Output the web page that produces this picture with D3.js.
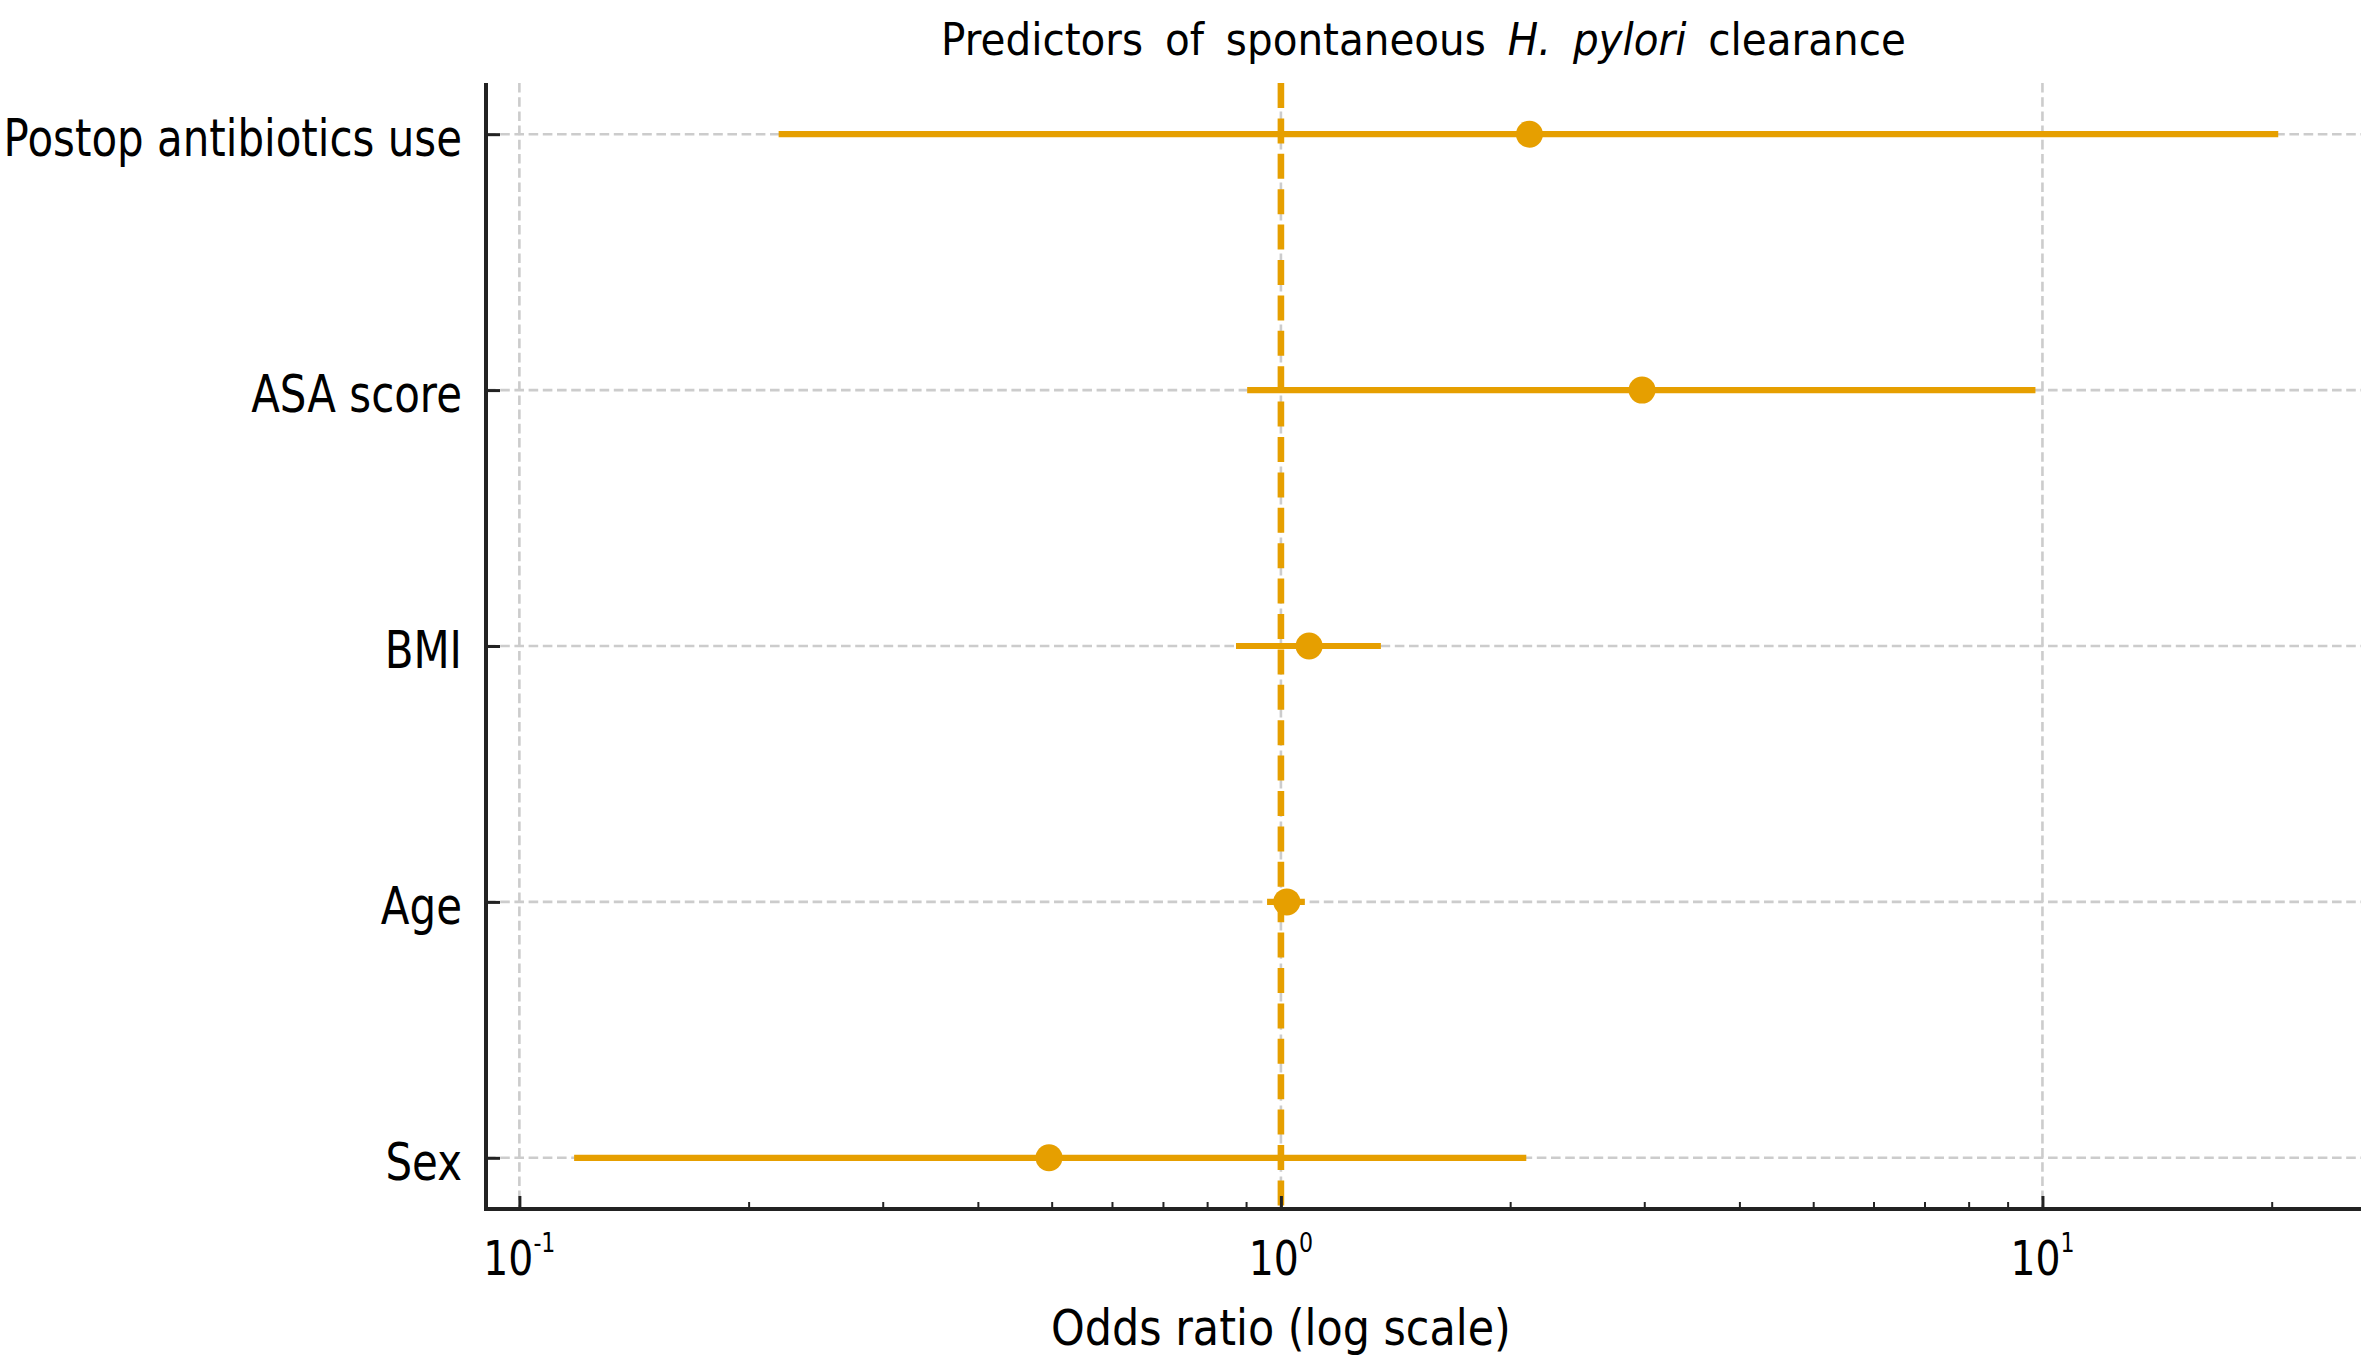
<!DOCTYPE html>
<html>
<head>
<meta charset="utf-8">
<script src="https://cdn.jsdelivr.net/npm/d3@7/dist/d3.min.js"></script>
<style>
  html, body { margin: 0; padding: 0; background: #ffffff; }
  svg { display: block; }
  text { font-family: "DejaVu Sans", Verdana, sans-serif; fill: #000; }
</style>
</head>
<body>
<svg id="chart" width="2361" height="1371"></svg>
<script>
// ---- data ----
const categories = ["Postop antibiotics use", "ASA score", "BMI", "Age", "Sex"];
const oddsRatio  = [2.12, 2.98, 1.089, 1.018, 0.496];
const ciLower    = [0.219, 0.903, 0.873, 0.959, 0.118];
const ciUpper    = [20.4, 9.79, 1.353, 1.075, 2.10];
const majorTicks = [0.1, 1, 10];
const tickBase   = ["10", "10", "10"];
const tickExp    = ["-1", "0", "1"];
const minorTicks = [0.2, 0.3, 0.4, 0.5, 0.6, 0.7, 0.8, 0.9, 2, 3, 4, 5, 6, 7, 8, 9, 20];
const referenceValue = 1;
const xDomain = [0.0904, 26.2];
const titleMain = "Predictors of spontaneous ";
const titleItalic = "H. pylori";
const titleEnd = " clearance";
const xLabel = "Odds ratio (log scale)";

// ---- layout ----
const W = 2361, H = 1371;
const pL = 486, pR = 2361, pT = 83, pB = 1209;
const orange = "#E69F00";
const gridColor = "#cccccc";
const axisColor = "#222222";

const svg = d3.select("#chart");
svg.append("rect").attr("width", W).attr("height", H).attr("fill", "#fff");

const x = d3.scaleLog().domain(xDomain).range([pL, pR]);
const y = d3.scalePoint().domain(categories).range([pT, pB]).padding(0.2);

const rows = categories.map((c, i) => ({ cat: c, or: oddsRatio[i], lo: ciLower[i], hi: ciUpper[i] }));

// ---- grid ----
const grid = svg.append("g");
grid.selectAll("line.vg").data(majorTicks).join("line").attr("class", "vg")
  .attr("x1", d => x(d)).attr("x2", d => x(d))
  .attr("y1", pT).attr("y2", pB)
  .attr("stroke", gridColor).attr("stroke-width", 2.6)
  .attr("stroke-dasharray", "9.6,4.6");
grid.selectAll("line.hg").data(categories).join("line").attr("class", "hg")
  .attr("x1", pL).attr("x2", pR)
  .attr("y1", d => y(d)).attr("y2", d => y(d))
  .attr("stroke", gridColor).attr("stroke-width", 2.6)
  .attr("stroke-dasharray", "9.6,4.6");

// ---- reference line ----
svg.append("line")
  .attr("x1", x(referenceValue)).attr("x2", x(referenceValue))
  .attr("y1", pT).attr("y2", pB)
  .attr("stroke", orange).attr("stroke-width", 6.6)
  .attr("stroke-dasharray", "25,10.4");

// ---- error bars ----
svg.append("g").selectAll("line").data(rows).join("line")
  .attr("x1", d => x(d.lo)).attr("x2", d => x(d.hi))
  .attr("y1", d => y(d.cat)).attr("y2", d => y(d.cat))
  .attr("stroke", orange).attr("stroke-width", 6.2);

// ---- points ----
svg.append("g").selectAll("circle").data(rows).join("circle")
  .attr("cx", d => x(d.or)).attr("cy", d => y(d.cat))
  .attr("r", 13.5).attr("fill", orange);

// ---- axes (ticks inward) ----
const xMajor = svg.append("g").attr("transform", `translate(0,${pB})`)
  .call(d3.axisBottom(x).tickValues(majorTicks).tickSize(-13).tickSizeOuter(0).tickFormat(""));
const xMinor = svg.append("g").attr("transform", `translate(0,${pB})`)
  .call(d3.axisBottom(x).tickValues(minorTicks).tickSize(-7).tickSizeOuter(0).tickFormat(""));
const yAxis = svg.append("g").attr("transform", `translate(${pL},0)`)
  .call(d3.axisLeft(y).tickSize(-14).tickSizeOuter(0).tickFormat(""));
[xMajor, xMinor, yAxis].forEach(g => g.select(".domain").remove());
xMajor.selectAll(".tick line").attr("stroke", axisColor).attr("stroke-width", 3);
xMinor.selectAll(".tick line").attr("stroke", axisColor).attr("stroke-width", 2);
yAxis.selectAll(".tick line").attr("stroke", axisColor).attr("stroke-width", 3);

// spines
svg.append("line").attr("x1", pL).attr("x2", pL).attr("y1", pT).attr("y2", pB + 2)
  .attr("stroke", axisColor).attr("stroke-width", 4);
svg.append("line").attr("x1", pL - 2).attr("x2", pR).attr("y1", pB).attr("y2", pB)
  .attr("stroke", axisColor).attr("stroke-width", 4);

// ---- y tick labels ----
svg.append("g").selectAll("text").data(categories).join("text")
  .attr("transform", d => `translate(${pL - 24},${y(d) + 22}) scale(0.807,1)`)
  .attr("text-anchor", "end")
  .attr("font-size", 52)
  .text(d => d);

// ---- x tick labels ----
const xt = svg.append("g").selectAll("text").data(majorTicks).join("text")
  .attr("transform", d => `translate(${x(d)},1275) scale(0.82,1)`)
  .attr("text-anchor", "middle")
  .attr("font-size", 48);
xt.append("tspan").text((d, i) => tickBase[i]);
xt.append("tspan").attr("dy", -23).attr("font-size", 27).text((d, i) => tickExp[i]);

// ---- x axis label ----
svg.append("text")
  .attr("transform", `translate(${x(referenceValue)},1345) scale(0.858,1)`)
  .attr("text-anchor", "middle")
  .attr("font-size", 50)
  .text(xLabel);

// ---- title ----
const title = svg.append("text")
  .attr("transform", `translate(${(pL + pR) / 2},55) scale(0.9,1)`)
  .attr("text-anchor", "middle")
  .attr("font-size", 45)
  .attr("word-spacing", 10)
  .style("white-space", "pre");
title.append("tspan").text(titleMain);
title.append("tspan").attr("font-style", "italic").text(titleItalic);
title.append("tspan").text(titleEnd);
</script>
</body>
</html>
